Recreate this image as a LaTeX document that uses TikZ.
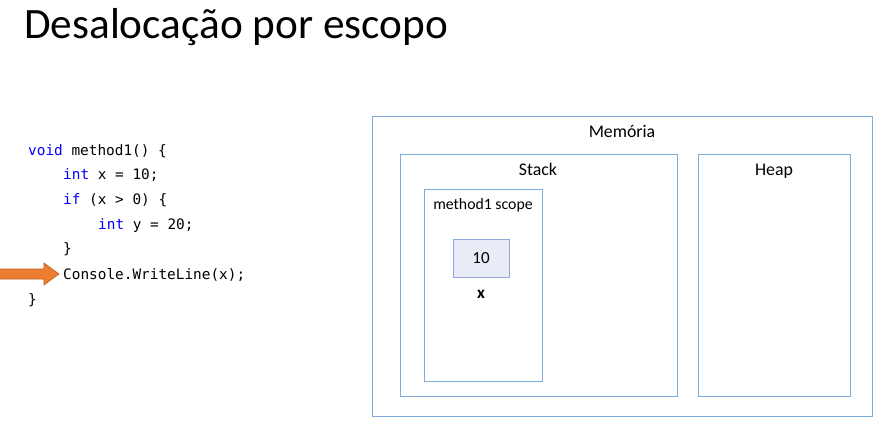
\documentclass[tikz,border=0pt]{standalone}
\usepackage{fontspec}
\setmainfont{Carlito}
\newfontfamily\codefont{DejaVu Sans Mono}
\definecolor{boxblue}{RGB}{126,172,222}
\definecolor{cellfill}{RGB}{233,236,246}
\definecolor{cellline}{RGB}{143,169,220}
\definecolor{kw}{RGB}{0,0,255}
\definecolor{arrorange}{RGB}{237,125,49}
\definecolor{arrline}{RGB}{190,95,30}
\begin{document}
\begin{tikzpicture}[x=1pt,y=-1pt,
  membox/.style={draw=boxblue,line width=0.9pt},
  lbl/.style={font=\fontsize{17.8}{20}\selectfont,inner sep=0pt,anchor=base},
  code/.style={font=\codefont\fontsize{14.4}{16}\selectfont,inner sep=0pt,anchor=base west}]
\useasboundingbox (0,0) rectangle (879,426);
\node[anchor=base west,inner sep=0pt,font=\fontsize{43.3}{50}\selectfont] (title) at (24,38) {Desalocação por escopo};
% memory boxes
\draw[membox] (372,116) rectangle (872,416);
\node[lbl] (mem) at (622,137) {Memória};
\draw[membox] (400,154) rectangle (677,396);
\node[lbl] (stack) at (538,175) {Stack};
\draw[membox] (698,154) rectangle (850,396);
\node[lbl] (heap) at (774,175) {Heap};
\draw[membox] (424,189) rectangle (542,381);
\node[lbl,font=\fontsize{15.8}{18}\selectfont] (scope) at (483,209) {method1 scope};
\node[draw=cellline,fill=cellfill,line width=0.9pt,minimum width=56pt,minimum height=38pt,inner sep=0pt,font=\fontsize{17}{19}\selectfont] (cell) at (481,258) {10};
\node[lbl,font=\bfseries\fontsize{17}{19}\selectfont] (xl) at (481,298) {x};
% code
\node[code] (l1) at (28,155) {{\color{kw}void} method1() \{};
\node[code] (l2) at (63,179) {{\color{kw}int} x = 10;};
\node[code] (l3) at (63,204) {{\color{kw}if} (x > 0) \{};
\node[code] (l4) at (98,229) {{\color{kw}int} y = 20;};
\node[code] (l5) at (63,253) {\}};
\node[code] (l6) at (63,279) {Console.WriteLine(x);};
\node[code] (l7) at (28,304) {\}};
% arrow
\draw[fill=arrorange,draw=arrline,line width=0.6pt] (-2,269) -- (44,269) -- (44,263) -- (59,274) -- (44,285) -- (44,279) -- (-2,279) -- cycle;
\end{tikzpicture}
\end{document}
